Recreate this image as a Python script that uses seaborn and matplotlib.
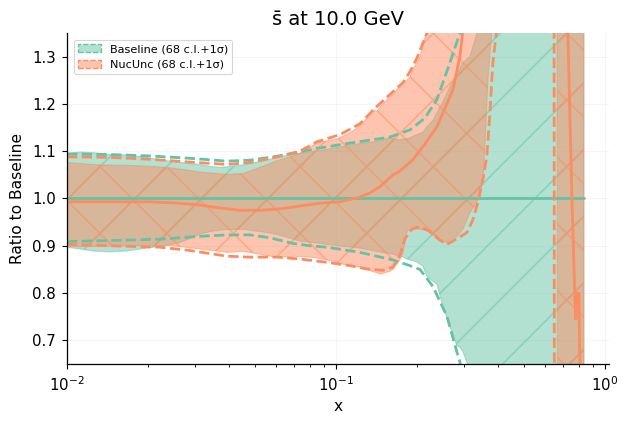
import numpy as np
import matplotlib
matplotlib.use("Agg")
import matplotlib.pyplot as plt
from matplotlib.patches import Patch
import seaborn as sns

# colours (Set2)
c_base = "#66c2a5"
c_nuc = "#fc8d62"

# Baseline 68 c.l. band
base_x = [0.01, 0.01118, 0.01249, 0.01445, 0.01671, 0.01868, 0.02217, 0.02564, 0.02866, 0.03122,
          0.03401, 0.03705, 0.03933, 0.04511, 0.04789, 0.05218, 0.05683, 0.06035, 0.06745, 0.07349,
          0.0850, 0.0926, 0.1062, 0.1228, 0.1421, 0.1587, 0.1629, 0.1729, 0.1775, 0.1836,
          0.2001, 0.2106, 0.2180, 0.2294, 0.2374, 0.2499, 0.2653, 0.2818, 0.2891, 0.2966,
          0.3069, 0.3149, 0.3343, 0.3430, 0.3580, 0.4070, 0.5732, 0.8355]
base_hi = [1.096, 1.098, 1.097, 1.093, 1.092, 1.089, 1.082, 1.077, 1.074, 1.072,
           1.068, 1.066, 1.067, 1.071, 1.074, 1.078, 1.083, 1.087, 1.092, 1.095,
           1.101, 1.104, 1.110, 1.116, 1.121, 1.129, 1.127, 1.124, 1.126, 1.126,
           1.135, 1.140, 1.152, 1.165, 1.181, 1.205, 1.236, 1.262, 1.275, 1.287,
           1.295, 1.300, 1.350, 1.400, 1.600, 2.000, 2.000, 2.000]
base_lo = [0.897, 0.893, 0.889, 0.887, 0.889, 0.893, 0.899, 0.905, 0.915, 0.925,
           0.930, 0.933, 0.934, 0.935, 0.933, 0.930, 0.927, 0.924, 0.916, 0.910,
           0.906, 0.903, 0.899, 0.895, 0.888, 0.883, 0.882, 0.878, 0.876, 0.872,
           0.866, 0.857, 0.835, 0.825, 0.819, 0.772, 0.730, 0.688, 0.686, 0.676,
           0.654, 0.630, 0.550, 0.500, 0.300, 0.000, 0.000, 0.000]

# NucUnc 68 c.l. band
nuc_x = [0.01, 0.01118, 0.01326, 0.01671, 0.02035, 0.02415, 0.02564, 0.03122, 0.03933, 0.04511,
         0.04789, 0.05218, 0.05683, 0.06035, 0.06745, 0.06921, 0.07349, 0.08006, 0.0850, 0.0926,
         0.1009, 0.1062, 0.1127, 0.1177, 0.1228, 0.1304, 0.1361, 0.1421, 0.1458, 0.1587,
         0.1629, 0.1729, 0.1775, 0.1836, 0.1884, 0.1933, 0.1966, 0.2053, 0.2180, 0.2236,
         0.2275, 0.2435, 0.2586, 0.2699, 0.2818, 0.2966, 0.3149, 0.3286, 0.3430, 0.3519,
         0.3580, 0.3673, 0.3802, 0.3968, 0.4247, 0.5263, 0.6631, 0.6687, 0.8355]
nuc_hi = [1.076, 1.074, 1.071, 1.070, 1.068, 1.065, 1.063, 1.056, 1.051, 1.053,
          1.058, 1.066, 1.074, 1.080, 1.088, 1.090, 1.096, 1.108, 1.118, 1.122,
          1.126, 1.132, 1.139, 1.146, 1.155, 1.170, 1.188, 1.184, 1.194, 1.215,
          1.220, 1.238, 1.243, 1.250, 1.257, 1.275, 1.280, 1.300, 1.356, 1.400,
          1.450, 1.800, 2.200, 2.500, 2.500, 2.500, 2.500, 2.500, 2.500, 2.500,
          2.500, 2.500, 2.500, 2.500, 2.500, 2.500, 2.500, 2.500, 2.500]
nuc_lo = [0.899, 0.898, 0.899, 0.900, 0.901, 0.900, 0.899, 0.893, 0.886, 0.888,
          0.886, 0.882, 0.878, 0.876, 0.877, 0.878, 0.877, 0.876, 0.874, 0.870,
          0.865, 0.861, 0.859, 0.857, 0.855, 0.850, 0.846, 0.843, 0.840, 0.846,
          0.850, 0.870, 0.885, 0.930, 0.934, 0.936, 0.936, 0.935, 0.932, 0.928,
          0.924, 0.912, 0.907, 0.915, 0.920, 0.935, 0.970, 0.985, 1.004, 1.040,
          1.110, 1.250, 1.356, 1.600, 2.000, 2.000, 2.000, -1.000, -1.000]

# Baseline 1 sigma
b1_x = [0.01, 0.01445, 0.02035, 0.02866, 0.03933, 0.04789, 0.05683, 0.06745, 0.0850, 0.1127,
        0.1587, 0.1884, 0.2142, 0.2374, 0.2653, 0.2891, 0.3149, 0.3737, 0.8355]
b1_hi = [1.094, 1.093, 1.090, 1.085, 1.079, 1.081, 1.087, 1.094, 1.106, 1.117,
         1.130, 1.145, 1.170, 1.209, 1.287, 1.350, 1.450, 2.000, 2.000]
b1l_x = [0.01, 0.01445, 0.02217, 0.03122, 0.03933, 0.04789, 0.05683, 0.06921, 0.08006, 0.0926,
         0.1228, 0.1629, 0.1884, 0.2053, 0.2294, 0.2586, 0.2818, 0.2891, 0.3017, 0.3737, 0.8355]
b1_lo = [0.909, 0.911, 0.914, 0.920, 0.923, 0.923, 0.917, 0.905, 0.900, 0.897,
         0.886, 0.870, 0.858, 0.850, 0.814, 0.751, 0.675, 0.654, 0.600, 0.000, 0.000]

# NucUnc 1 sigma
n1_x = [0.01, 0.01445, 0.02035, 0.02866, 0.03933, 0.04789, 0.06035, 0.07349, 0.0850, 0.1035,
        0.1228, 0.1421, 0.1587, 0.1775, 0.1884, 0.2001, 0.2180, 0.2333, 0.2653, 0.8355]
n1_hi = [1.088, 1.087, 1.083, 1.077, 1.072, 1.076, 1.088, 1.100, 1.120, 1.135,
         1.158, 1.195, 1.220, 1.245, 1.268, 1.297, 1.350, 1.450, 2.000, 2.500]
n1l_x = [0.01, 0.01445, 0.02217, 0.02866, 0.03933, 0.04789, 0.06035, 0.07349, 0.0926, 0.1127,
         0.1304, 0.1496, 0.1629, 0.1729, 0.1806, 0.1917, 0.2053, 0.2236, 0.2435, 0.2586,
         0.2818, 0.3069, 0.3231, 0.3372, 0.3519, 0.3641, 0.3737, 0.3834, 0.3968, 0.4176,
         0.4434, 0.6463, 0.6519, 0.8355]
n1_lo = [0.903, 0.900, 0.897, 0.890, 0.878, 0.876, 0.876, 0.872, 0.865, 0.858,
         0.851, 0.848, 0.855, 0.880, 0.915, 0.935, 0.941, 0.930, 0.912, 0.903,
         0.915, 0.928, 0.955, 0.992, 1.040, 1.089, 1.181, 1.287, 1.360, 1.600,
         2.000, 2.000, -1.000, -1.000]

# central values
base_cv = [1.0] * len(base_x)
nuc_cx = [0.01, 0.01445, 0.02035, 0.0263, 0.03122, 0.03705, 0.04397, 0.05218, 0.0619, 0.07349,
          0.08719, 0.1035, 0.1228, 0.1338, 0.1458, 0.1629, 0.1729, 0.1933, 0.2142, 0.2374,
          0.2542, 0.2722, 0.2891, 0.2966, 0.3149, 0.3430, 0.7226, 0.7286, 0.7540, 0.7736,
          0.7803, 0.7870, 0.8005, 0.8074, 0.8214, 0.8355]
nuc_cv = [0.993, 0.993, 0.993, 0.990, 0.986, 0.980, 0.975, 0.975, 0.978, 0.984,
          0.990, 0.993, 1.003, 1.012, 1.025, 1.050, 1.058, 1.082, 1.115, 1.152,
          1.190, 1.230, 1.300, 1.356, 1.500, 2.000, 2.000, 1.350, 1.004, 0.793,
          0.745, 0.800, 0.800, 0.654, 0.400, 0.000]

sns.set_style("ticks", {"axes.edgecolor": "black", "text.color": "black",
                        "axes.labelcolor": "black", "xtick.color": "black",
                        "ytick.color": "black"})
plt.rcParams["font.family"] = ["DejaVu Sans"]
plt.rcParams["hatch.linewidth"] = 0.6

fig, ax = plt.subplots(figsize=(3.145, 2.115), dpi=200)
fig.subplots_adjust(left=0.1065, right=0.968, top=0.922, bottom=0.1395)

ax.fill_between(base_x, base_lo, base_hi, facecolor=c_base, edgecolor=c_base,
                alpha=0.5, hatch="/", linewidth=0.4)
ax.fill_between(nuc_x, nuc_lo, nuc_hi, facecolor=c_nuc, edgecolor=c_nuc,
                alpha=0.5, hatch="x", linewidth=0.4)

lw = 1.0
sns.lineplot(x=base_x, y=base_cv, color=c_base, lw=lw, ax=ax, estimator=None)
sns.lineplot(x=b1_x, y=b1_hi, color=c_base, lw=lw, ls="--", ax=ax, estimator=None)
sns.lineplot(x=b1l_x, y=b1_lo, color=c_base, lw=lw, ls="--", ax=ax, estimator=None)
sns.lineplot(x=n1_x, y=n1_hi, color=c_nuc, lw=lw, ls="--", ax=ax, estimator=None)
sns.lineplot(x=n1l_x, y=n1_lo, color=c_nuc, lw=lw, ls="--", ax=ax, estimator=None)
sns.lineplot(x=nuc_cx, y=nuc_cv, color=c_nuc, lw=lw, ax=ax, estimator=None)

ax.set_xscale("log")
ax.set_xlim(0.01, 1.035)
ax.set_ylim(0.65, 1.35)
ax.set_yticks([0.7, 0.8, 0.9, 1.0, 1.1, 1.2, 1.3])
ax.set_yticklabels(["0.7", "0.8", "0.9", "1.0", "1.1", "1.2", "1.3"])
ax.grid(True, which="major", color="#b0b0b0", alpha=0.12, lw=0.4)

ax.tick_params(axis="both", which="major", labelsize=5.4, length=1.75, width=0.4, pad=2.2)
ax.tick_params(axis="both", which="minor", length=1.0, width=0.3)
for s in ax.spines.values():
    s.set_linewidth(0.45)
sns.despine(ax=ax)

ax.set_xlabel("x", fontsize=5.6, labelpad=2)
ax.set_ylabel("Ratio to Baseline", fontsize=5.6, labelpad=2.5)
ax.set_title("s\u0304 at 10.0 GeV", fontsize=7, pad=3)

handles = [
    Patch(facecolor=(0.4, 0.76, 0.647, 0.5), edgecolor=c_base, linestyle="--", linewidth=0.5),
    Patch(facecolor=(0.988, 0.553, 0.384, 0.5), edgecolor=c_nuc, linestyle="--", linewidth=0.5),
]
ax.legend(handles, ["Baseline (68 c.l.+1\u03c3)", "NucUnc (68 c.l.+1\u03c3)"],
          loc="upper left", fontsize=4.05, frameon=True, framealpha=0.8,
          edgecolor="#cccccc", borderaxespad=0.6).get_frame().set_linewidth(0.4)

fig.savefig("out.png", dpi=200)
